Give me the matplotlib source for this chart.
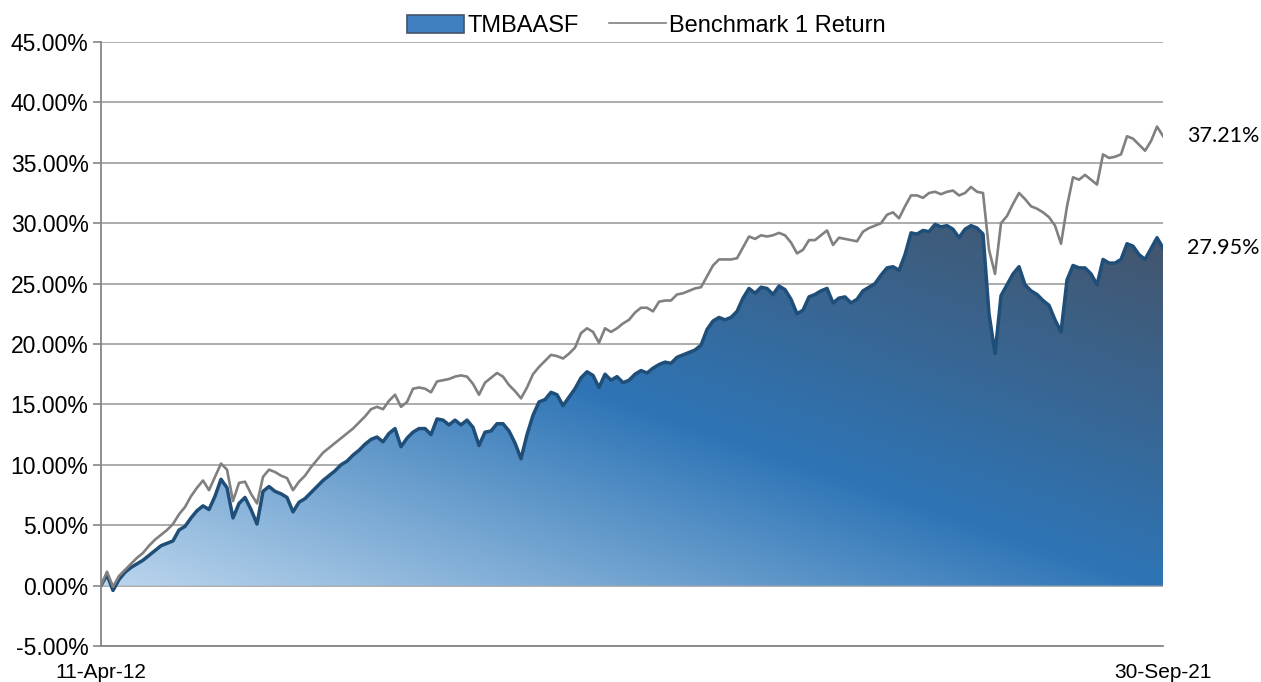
import numpy as np
import pandas as pd
import matplotlib
matplotlib.use('Agg')
import matplotlib.pyplot as plt
import matplotlib.dates as mdates
from matplotlib.colors import LinearSegmentedColormap
from matplotlib.patches import Patch
from matplotlib.lines import Line2D
from matplotlib.ticker import FuncFormatter

# 数据：累计收益率 (%)，按等间隔时间点读取
series_names = ['TMBAASF', 'Benchmark 1 Return']
start_date = '2012-04-11'
end_date = '2021-09-30'
start_label = '11-Apr-12'
end_label = '30-Sep-21'

fund = [
    0.0, 0.9, -0.4, 0.5, 1.1, 1.5, 1.8, 2.1, 2.5, 2.9,
    3.3, 3.5, 3.7, 4.6, 4.9, 5.6, 6.2, 6.6, 6.3, 7.4,
    8.8, 8.1, 5.6, 6.8, 7.3, 6.3, 5.1, 7.8, 8.2, 7.8,
    7.6, 7.3, 6.1, 6.9, 7.2, 7.7, 8.2, 8.7, 9.1, 9.5,
    10.0, 10.3, 10.8, 11.2, 11.7, 12.1, 12.3, 11.9, 12.6, 13.0,
    11.5, 12.2, 12.7, 13.0, 13.0, 12.5, 13.8, 13.7, 13.3, 13.7,
    13.3, 13.7, 13.1, 11.6, 12.7, 12.8, 13.4, 13.4, 12.8, 11.8,
    10.5, 12.5, 14.1, 15.2, 15.4, 16.0, 15.8, 14.9, 15.6, 16.3,
    17.2, 17.7, 17.4, 16.4, 17.5, 17.0, 17.3, 16.8, 17.0, 17.5,
    17.8, 17.6, 18.0, 18.3, 18.5, 18.4, 18.9, 19.1, 19.3, 19.5,
    19.9, 21.2, 21.9, 22.2, 22.0, 22.2, 22.7, 23.8, 24.6, 24.2,
    24.7, 24.6, 24.1, 24.8, 24.5, 23.7, 22.5, 22.8, 23.9, 24.1,
    24.4, 24.6, 23.4, 23.8, 23.9, 23.4, 23.7, 24.4, 24.7, 25.0,
    25.7, 26.3, 26.4, 26.1, 27.4, 29.2, 29.1, 29.4, 29.3, 29.9,
    29.7, 29.8, 29.5, 28.8, 29.5, 29.8, 29.6, 29.1, 22.5, 19.2,
    24.0, 24.9, 25.8, 26.4, 24.9, 24.4, 24.1, 23.6, 23.2, 22.0,
    21.0, 25.3, 26.5, 26.3, 26.3, 25.8, 24.9, 27.0, 26.7, 26.7,
    27.0, 28.3, 28.1, 27.4, 27.0, 27.9, 28.8, 27.95,
]

bench = [
    0.0, 1.15, -0.1, 0.8, 1.3, 1.8, 2.3, 2.7, 3.3, 3.8,
    4.2, 4.6, 5.1, 5.9, 6.5, 7.4, 8.1, 8.7, 7.9, 9.0,
    10.1, 9.6, 7.0, 8.5, 8.6, 7.6, 6.8, 9.0, 9.6, 9.4,
    9.1, 8.9, 7.9, 8.6, 9.1, 9.8, 10.4, 11.0, 11.4, 11.8,
    12.2, 12.6, 13.0, 13.5, 14.0, 14.6, 14.8, 14.6, 15.3, 15.8,
    14.8, 15.2, 16.3, 16.4, 16.3, 16.0, 16.9, 17.0, 17.1, 17.3,
    17.4, 17.3, 16.7, 15.8, 16.8, 17.2, 17.6, 17.3, 16.6, 16.1,
    15.5, 16.4, 17.5, 18.1, 18.6, 19.1, 19.0, 18.8, 19.2, 19.7,
    20.9, 21.3, 21.0, 20.1, 21.3, 21.0, 21.3, 21.7, 22.0, 22.6,
    23.0, 23.0, 22.7, 23.5, 23.6, 23.6, 24.1, 24.2, 24.4, 24.6,
    24.7, 25.6, 26.5, 27.0, 27.0, 27.0, 27.1, 28.0, 28.9, 28.7,
    29.0, 28.9, 29.0, 29.2, 29.0, 28.4, 27.5, 27.8, 28.6, 28.6,
    29.0, 29.4, 28.2, 28.8, 28.7, 28.6, 28.5, 29.3, 29.6, 29.8,
    30.0, 30.7, 30.9, 30.4, 31.4, 32.3, 32.3, 32.1, 32.5, 32.6,
    32.4, 32.6, 32.7, 32.3, 32.5, 33.0, 32.6, 32.5, 27.8, 25.8,
    30.0, 30.6, 31.6, 32.5, 32.0, 31.4, 31.2, 30.9, 30.5, 29.8,
    28.3, 31.4, 33.8, 33.6, 34.0, 33.6, 33.2, 35.7, 35.4, 35.5,
    35.7, 37.2, 37.0, 36.5, 36.0, 36.8, 38.0, 37.21,
]

y_ticks = [-5, 0, 5, 10, 15, 20, 25, 30, 35, 40, 45]

# 颜色
grad_colors = ['#bdd7ee', '#2e75b6', '#44546a']
fund_line_color = '#1f4e79'
bench_color = '#808080'
grid_color = '#a6a6a6'

plt.rcParams['font.family'] = ['Liberation Sans', 'DejaVu Sans']

dates = pd.date_range(start_date, end_date, periods=len(fund))
x = mdates.date2num(dates.to_pydatetime())
fund_arr = np.array(fund)
bench_arr = np.array(bench)

fig = plt.figure(figsize=(12.61, 6.82), dpi=100)
ax = fig.add_axes([0.0801, 0.0528, 0.8422, 0.8856])

# 渐变填充区域
poly = ax.fill_between(x, fund_arr, 0, facecolor='none', edgecolor='none')
ylo = min(0, fund_arr.min())
yhi = fund_arr.max()
nx, ny = 600, 300
u = np.linspace(0, 1, nx)
v = np.linspace(0, 1, ny)
t = (u[None, :] + v[:, None]) / 2.0
cmap = LinearSegmentedColormap.from_list('grad', grad_colors)
im = ax.imshow(cmap(t), extent=[x[0], x[-1], ylo, yhi], origin='lower',
               aspect='auto', zorder=1, interpolation='bilinear')
im.set_clip_path(poly.get_paths()[0], transform=ax.transData)

ax.plot(x, fund_arr, color=fund_line_color, lw=2.5, zorder=2)
ax.plot(x, bench_arr, color=bench_color, lw=1.9, zorder=3)

# 坐标轴
ax.set_xlim(x[0], x[-1])
ax.set_ylim(y_ticks[0], y_ticks[-1])
ax.set_yticks(y_ticks)
ax.yaxis.set_major_formatter(FuncFormatter(lambda val, pos: f'{val:.2f}%'))
ax.set_xticks([x[0], x[-1]])
ax.set_xticklabels([start_label, end_label])
ax.tick_params(axis='x', length=0, pad=12, labelsize=15)
ax.tick_params(axis='y', length=6, color='#868686', width=1.2, pad=3, labelsize=16.5)
ax.grid(axis='y', color=grid_color, lw=1.3, zorder=0)
ax.set_axisbelow(True)
for side in ['top', 'right']:
    ax.spines[side].set_visible(False)
for side in ['left', 'bottom']:
    ax.spines[side].set_color('#868686')
    ax.spines[side].set_linewidth(1.3)

# 末端标签
for vals in [bench_arr, fund_arr]:
    ax.annotate(f'{vals[-1]:.2f}%', xy=(x[-1], vals[-1]), xytext=(17, 0),
                textcoords='offset points', va='center', ha='left',
                fontsize=15.5, family=['Lato', 'DejaVu Sans'], annotation_clip=False)

# 图例
handles = [
    Patch(facecolor='#3f7fbf', edgecolor='#44546a', lw=1.2),
    Line2D([0], [0], color=bench_color, lw=1.2),
]
fig.legend(handles, series_names, loc='center', bbox_to_anchor=(0.5127, 0.962),
           ncol=2, frameon=False, fontsize=17, handlelength=2.4, handleheight=0.8,
           handletextpad=0.15, columnspacing=1.3)

fig.savefig('out.png', dpi=100)
